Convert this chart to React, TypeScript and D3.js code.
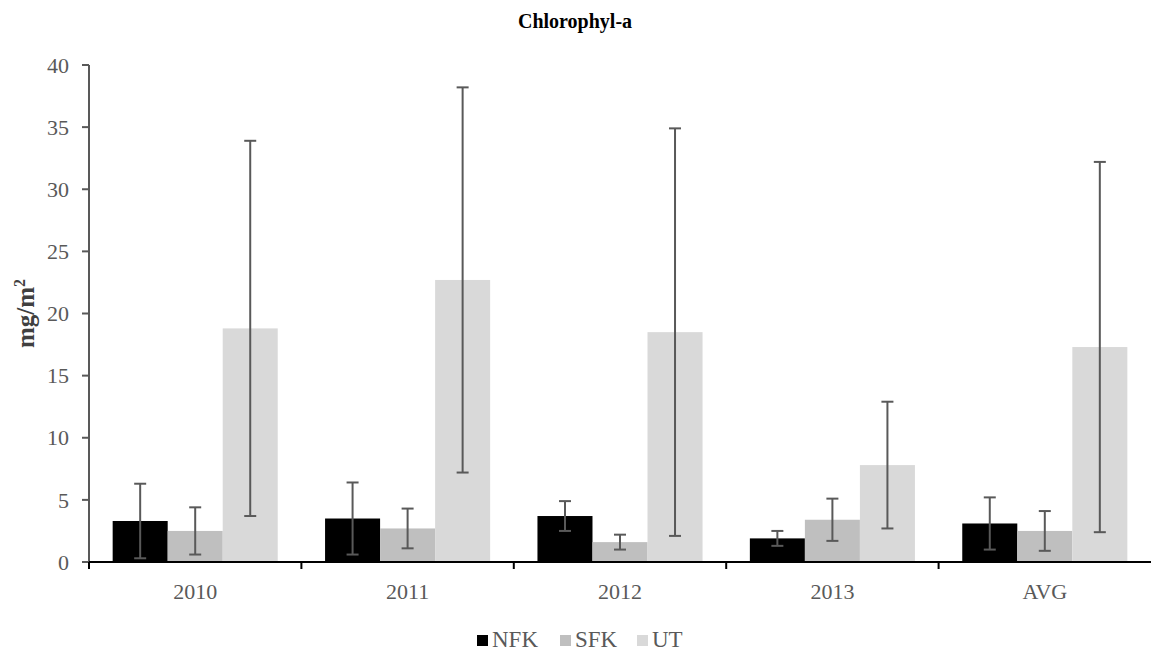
import React from "react";
import * as d3 from "d3";

const categories = ["2010", "2011", "2012", "2013", "AVG"];
const seriesNames = ["NFK", "SFK", "UT"];
const nfkValues = [3.3, 3.5, 3.7, 1.9, 3.1];
const sfkValues = [2.5, 2.7, 1.6, 3.4, 2.5];
const utValues = [18.8, 22.7, 18.5, 7.8, 17.3];
const nfkErrors = [3.0, 2.9, 1.2, 0.6, 2.1];
const sfkErrors = [1.9, 1.6, 0.6, 1.7, 1.6];
const utErrors = [15.1, 15.5, 16.4, 5.1, 14.9];
const yTicks = [0, 5, 10, 15, 20, 25, 30, 35, 40];
const colors = ["#000000", "#bfbfbf", "#d9d9d9"];

const W = 1151;
const H = 652;
const left = 89;
const right = 1151;
const top = 65;
const bottom = 562;
const font = "'Liberation Serif', 'Times New Roman', serif";

export default function App() {
  const x = d3.scaleBand<string>().domain(categories).range([left, right]).paddingInner(0).paddingOuter(0);
  const inner = d3
    .scaleBand<string>()
    .domain(seriesNames)
    .range([0, x.bandwidth()])
    .paddingOuter(0.43)
    .paddingInner(0);
  const y = d3.scaleLinear().domain([0, 40]).range([bottom, top]);
  const values = [nfkValues, sfkValues, utValues];
  const errors = [nfkErrors, sfkErrors, utErrors];
  const legendX = [477, 560, 637];

  return (
    <svg width={W} height={H} style={{ position: "absolute", left: 0, top: 0, background: "#fff" }}>
      <text x={575} y={28} textAnchor="middle" fontFamily={font} fontWeight="bold" fontSize={20} fill="#000">
        Chlorophyl-a
      </text>
      <text
        transform={`translate(34,${(top + bottom) / 2}) rotate(-90)`}
        textAnchor="middle"
        fontFamily={font}
        fontWeight="bold"
        fontSize={25}
        fill="#404040"
      >
        mg/m<tspan fontSize={16} dy={-9}>2</tspan>
      </text>
      {/* bars */}
      {seriesNames.map((s, si) =>
        categories.map((c, ci) => {
          const v = values[si][ci];
          const bx = (x(c) ?? 0) + (inner(s) ?? 0);
          return (
            <rect key={s + c} x={bx} y={y(v)} width={inner.bandwidth()} height={y(0) - y(v)} fill={colors[si]} />
          );
        })
      )}
      {/* error bars */}
      {seriesNames.map((s, si) =>
        categories.map((c, ci) => {
          const v = values[si][ci];
          const e = errors[si][ci];
          const cx = (x(c) ?? 0) + (inner(s) ?? 0) + inner.bandwidth() / 2;
          const y1 = y(v + e);
          const y2 = y(Math.max(0, v - e));
          return (
            <g key={"e" + s + c} stroke="#595959" strokeWidth={2}>
              <line x1={cx} x2={cx} y1={y1} y2={y2} />
              <line x1={cx - 6} x2={cx + 6} y1={y1} y2={y1} />
              <line x1={cx - 6} x2={cx + 6} y1={y2} y2={y2} />
            </g>
          );
        })
      )}
      {/* y axis */}
      <line x1={left} x2={left} y1={top} y2={bottom} stroke="#595959" strokeWidth={2} />
      {yTicks.map((t) => (
        <g key={t}>
          <line x1={left - 7} x2={left} y1={y(t)} y2={y(t)} stroke="#595959" strokeWidth={2} />
          <text x={69} y={y(t)} dy="0.35em" textAnchor="end" fontFamily={font} fontSize={22} fill="#595959">
            {t}
          </text>
        </g>
      ))}
      {/* x axis */}
      <line x1={left} x2={right} y1={bottom} y2={bottom} stroke="#000" strokeWidth={2} />
      {categories.map((c) => (
        <g key={c}>
          <line x1={x(c)} x2={x(c)} y1={bottom} y2={bottom + 7} stroke="#000" strokeWidth={2} />
          <text
            x={(x(c) ?? 0) + x.bandwidth() / 2}
            y={599}
            textAnchor="middle"
            fontFamily={font}
            fontSize={22}
            fill="#595959"
          >
            {c}
          </text>
        </g>
      ))}
      {/* legend */}
      {seriesNames.map((s, i) => {
        const lx = legendX[i];
        return (
          <g key={"l" + s}>
            <rect x={lx} y={635} width={11} height={11} fill={colors[i]} />
            <text x={lx + 15} y={647} fontFamily={font} fontSize={23} fill="#595959">
              {s}
            </text>
          </g>
        );
      })}
    </svg>
  );
}
